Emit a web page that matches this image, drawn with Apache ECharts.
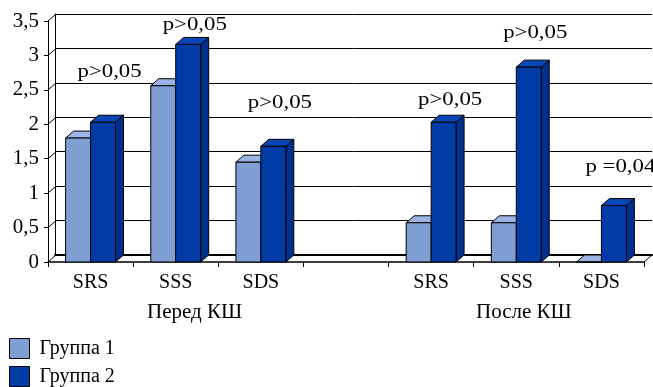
<!DOCTYPE html>
<html>
<head>
<meta charset="utf-8">
<script src="https://cdn.jsdelivr.net/npm/echarts@6/dist/echarts.min.js"></script>
<style>
  html, body { margin: 0; padding: 0; background: #fff; }
  #container { width: 653px; height: 387px; }
</style>
</head>
<body>
<div id="container"></div>
<script type="text/javascript">
    // данные
    var categories = ['SRS', 'SSS', 'SDS', '', 'SRS', 'SSS', 'SDS'];
    var group1 = [1.8, 2.56, 1.45, null, 0.57, 0.57, 0];
    var group2 = [2.03, 3.16, 1.68, null, 2.03, 2.83, 0.82];
    var seriesNames = ['Группа 1', 'Группа 2'];
    var yTicks = [0, 0.5, 1, 1.5, 2, 2.5, 3, 3.5];
    var pCats = [0, 1, 2, 4, 5, 6];
    var pLevels = [2.76, 3.44, 2.31, 2.35, 3.32, 1.38];
    var pTexts = ['p>0,05', 'p>0,05', 'p>0,05', 'p>0,05', 'p>0,05', 'p =0,04'];
    var groupTitles = ['Перед КШ', 'После КШ'];

    var FONT = 'Liberation Serif';
    var DX = 8, DY = -7;
    var faces = [
        { front: '#7F9ED4', top: '#9AB3E2', side: '#6A89C4' },
        { front: '#003BA6', top: '#0846B6', side: '#00308F' }
    ];

    function toData(arr) {
        var out = [];
        arr.forEach(function (v, i) { if (v !== null) out.push([i, v]); });
        return out;
    }

    function barRender(idx) {
        return function (params, api) {
            var x = api.value(0), v = api.value(1);
            var base = api.coord([x, 0]);
            var top = api.coord([x, v]);
            var bw = api.size([1, 0])[0] * 0.293;
            var x0 = idx === 0 ? base[0] - bw : base[0];
            var y0 = top[1], yb = base[1];
            var st = { stroke: '#000', lineWidth: 1 };
            var c = faces[idx];
            return {
                type: 'group',
                children: [
                    { type: 'polygon', shape: { points: [[x0 + bw, y0], [x0 + bw + DX, y0 + DY], [x0 + bw + DX, yb + DY], [x0 + bw, yb]] },
                      style: Object.assign({ fill: c.side }, st) },
                    { type: 'polygon', shape: { points: [[x0, y0], [x0 + bw, y0], [x0 + bw + DX, y0 + DY], [x0 + DX, y0 + DY]] },
                      style: Object.assign({ fill: c.top }, st) },
                    { type: 'rect', shape: { x: x0, y: y0, width: bw, height: yb - y0 },
                      style: Object.assign({ fill: c.front }, st) }
                ]
            };
        };
    }

    var dom = document.getElementById('container');
    var myChart = echarts.init(dom);

    var option = {
        animation: false,
        textStyle: { fontFamily: FONT },
        legend: {
            orient: 'vertical',
            left: 9,
            top: 338,
            padding: 0,
            itemWidth: 20,
            itemHeight: 20,
            itemGap: 7,
            icon: 'rect',
            selectedMode: false,
            textStyle: { fontFamily: FONT, fontSize: 20, color: '#000', padding: [0, 0, 0, 5] },
            data: [
                { name: seriesNames[0], itemStyle: { color: faces[0].front, borderColor: '#000', borderWidth: 1 } },
                { name: seriesNames[1], itemStyle: { color: faces[1].front, borderColor: '#000', borderWidth: 1 } }
            ]
        },
        graphic: [
            { type: 'text', left: 147, top: 302, style: { text: groupTitles[0], fontFamily: FONT, fontSize: 21, fill: '#000' } },
            { type: 'text', left: 476, top: 302, style: { text: groupTitles[1], fontFamily: FONT, fontSize: 21, fill: '#000' } }
        ],
        grid: [
            { left: 48, right: 9, top: 21, bottom: 125 },
            { left: 55, right: 1, top: 14, bottom: 132 }
        ],
        xAxis: [
            {
                type: 'category', gridIndex: 0, data: categories,
                axisLine: { lineStyle: { color: '#000', width: 1.5 } },
                axisTick: { show: true, interval: 0, length: 5, lineStyle: { color: '#000' } },
                axisLabel: { color: '#000', fontSize: 20, fontFamily: FONT, margin: 11, interval: 0 }
            },
            {
                type: 'category', gridIndex: 1, data: categories,
                axisLine: { lineStyle: { color: '#000', width: 2 } },
                axisTick: { show: false },
                axisLabel: { show: false }
            }
        ],
        yAxis: [
            {
                type: 'value', gridIndex: 0, min: 0, max: 3.5, interval: 0.5,
                axisLine: { show: true, lineStyle: { color: '#000' } },
                axisTick: { show: true, length: 4, lineStyle: { color: '#000' } },
                splitLine: { show: false },
                axisLabel: {
                    color: '#000', fontSize: 21, fontFamily: FONT, margin: 9,
                    formatter: function (v) { return String(v).replace('.', ','); }
                }
            },
            {
                type: 'value', gridIndex: 1, min: 0, max: 3.5, interval: 0.5,
                axisLine: { show: true, lineStyle: { color: '#000' } },
                axisTick: { show: false },
                axisLabel: { show: false },
                splitLine: { show: true, lineStyle: { color: '#000', width: 1 } }
            }
        ],
        series: [
            {
                // диагонали от передней оси к задней стенке
                type: 'custom', name: 'diag', xAxisIndex: 0, yAxisIndex: 0, silent: true,
                data: yTicks.map(function (t) { return [0, t]; }),
                renderItem: function (params, api) {
                    var p = api.coord([0, api.value(1)]);
                    var left = p[0] - api.size([1, 0])[0] / 2;
                    var kids = [{ type: 'line', shape: { x1: left, y1: p[1], x2: left + DX, y2: p[1] + DY }, style: { stroke: '#000', lineWidth: 1 } }];
                    if (api.value(1) === 0) {
                        var r = api.coord([categories.length - 1, 0]);
                        var right = r[0] + api.size([1, 0])[0] / 2;
                        kids.push({ type: 'line', shape: { x1: right, y1: r[1], x2: right + DX, y2: r[1] + DY }, style: { stroke: '#000', lineWidth: 1 } });
                    }
                    return { type: 'group', children: kids };
                }
            },
            {
                type: 'custom', name: seriesNames[0], xAxisIndex: 0, yAxisIndex: 0,
                itemStyle: { color: faces[0].front },
                data: toData(group1), renderItem: barRender(0)
            },
            {
                type: 'custom', name: seriesNames[1], xAxisIndex: 0, yAxisIndex: 0,
                itemStyle: { color: faces[1].front },
                data: toData(group2), renderItem: barRender(1)
            },
            {
                type: 'custom', name: 'p', xAxisIndex: 0, yAxisIndex: 0, silent: true,
                data: pCats.map(function (c, i) { return [c, pLevels[i], i]; }),
                renderItem: function (params, api) {
                    var p = api.coord([api.value(0), api.value(1)]);
                    return {
                        type: 'text', x: p[0] + 19, y: p[1], scaleX: 1.2,
                        style: { text: pTexts[api.value(2)], fontFamily: FONT, fontSize: 19, fill: '#000', align: 'center', verticalAlign: 'middle' }
                    };
                }
            }
        ]
    };

    if (option && typeof option === 'object') {
        myChart.setOption(option);
    }
</script>
</body>
</html>
